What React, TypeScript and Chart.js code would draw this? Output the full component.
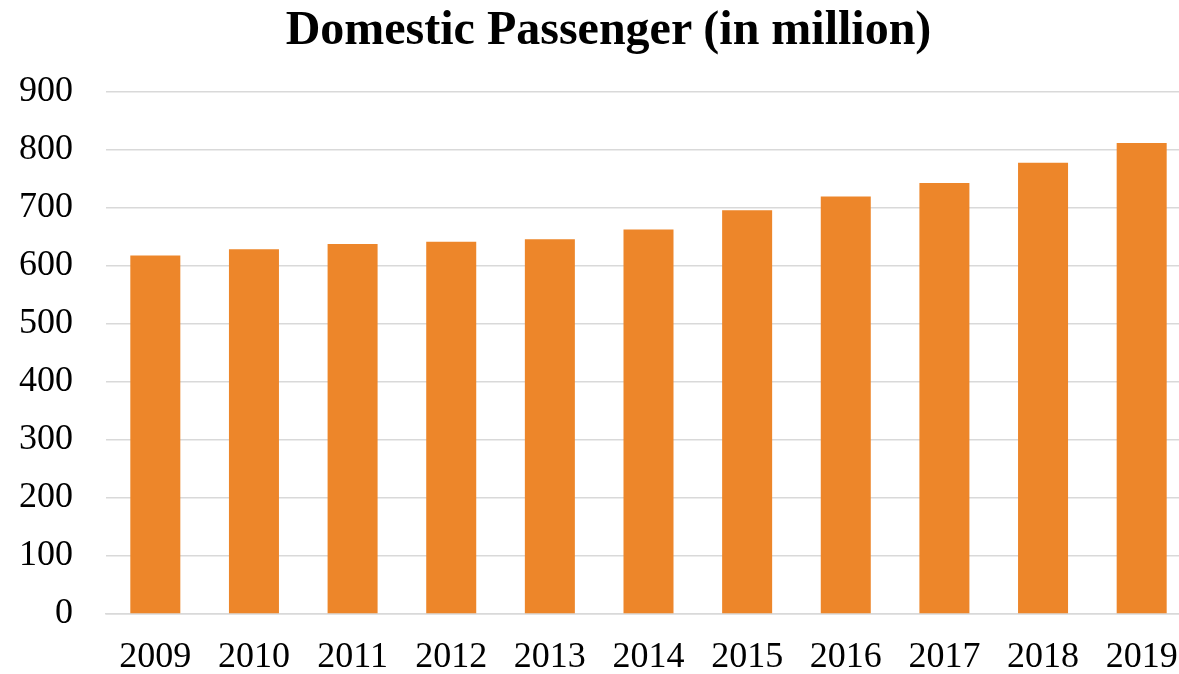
import React, { useEffect, useRef } from "react";
import { Chart, registerables } from "chart.js";

Chart.register(...registerables);

const years = ["2009", "2010", "2011", "2012", "2013", "2014", "2015", "2016", "2017", "2018", "2019"];
const passengers = [618, 629, 638, 642, 646, 663, 696, 720, 743, 778, 812];
const yTicks = [0, 100, 200, 300, 400, 500, 600, 700, 800, 900];
const titleText = "Domestic Passenger (in million)";

const FONT = '"Liberation Serif", "Times New Roman", serif';

export default function App() {
  const canvasRef = useRef<HTMLCanvasElement | null>(null);

  useEffect(() => {
    document.body.style.margin = "0";
    const canvas = canvasRef.current;
    if (!canvas) return;
    const chart = new Chart(canvas, {
      type: "bar",
      data: {
        labels: years,
        datasets: [
          {
            label: "Domestic Passenger",
            data: passengers,
            backgroundColor: "#ED862A",
            borderWidth: 0,
            barPercentage: 0.507,
            categoryPercentage: 1,
          },
        ],
      },
      options: {
        responsive: false,
        animation: false,
        maintainAspectRatio: false,
        layout: { padding: { top: 92, left: 19, right: 0, bottom: 0 } },
        plugins: {
          legend: { display: false },
          title: { display: false },
          tooltip: { enabled: false },
        },
        scales: {
          x: {
            afterFit: (axis: any) => {
              axis.height = 60;
              axis.paddingLeft = 0;
              axis.paddingRight = 0;
            },
            grid: { display: false, drawTicks: false },
            border: { display: true, color: "#d9d9d9", width: 1.5 },
            ticks: {
              color: "#000",
              font: { family: FONT, size: 36 },
              padding: 22,
              maxRotation: 0,
              autoSkip: false,
            },
          },
          y: {
            min: yTicks[0],
            max: yTicks[yTicks.length - 1],
            afterBuildTicks: (axis: any) => {
              axis.ticks = yTicks.map((v) => ({ value: v }));
            },
            afterFit: (axis: any) => {
              axis.width = 87;
            },
            grid: { color: "#d9d9d9", lineWidth: 1.5, drawTicks: false },
            border: { display: false },
            ticks: {
              color: "#000",
              font: { family: FONT, size: 36 },
              padding: 33,
            },
          },
        },
      },
    });
    return () => chart.destroy();
  }, []);

  return (
    <div style={{ position: "relative", width: 1179, height: 674, overflow: "hidden" }}>
      <canvas ref={canvasRef} width={1191} height={674} style={{ display: "block" }} />
      <div
        style={{
          position: "absolute",
          left: 0,
          top: 0,
          width: 1179,
          boxSizing: "border-box",
          paddingLeft: 38,
          textAlign: "center",
          fontFamily: FONT,
          fontWeight: "bold",
          fontSize: 48,
          lineHeight: "56px",
          color: "#000",
        }}
      >
        {titleText}
      </div>
    </div>
  );
}
